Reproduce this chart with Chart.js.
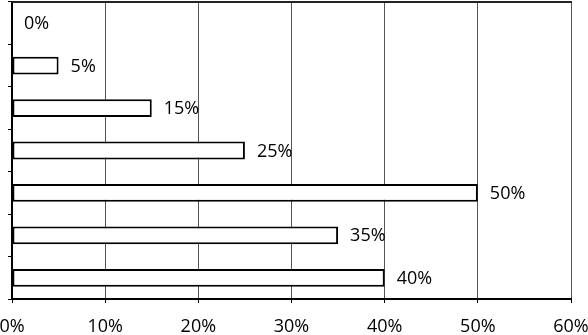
<!DOCTYPE html>
<html>
<head>
<meta charset="utf-8">
<script src="https://cdn.jsdelivr.net/npm/chart.js@4"></script>
<style>
  html, body { margin: 0; padding: 0; background: #fff; }
  #wrap { width: 588px; height: 335px; }
</style>
</head>
<body>
<div id="wrap"><canvas id="barChart" width="588" height="335"></canvas></div>
<script>
// -------------------------------
// Data
// -------------------------------
const categories = ['Item 1', 'Item 2', 'Item 3', 'Item 4', 'Item 5', 'Item 6', 'Item 7'];
const values = [0, 5, 15, 25, 50, 35, 40];
const xTicks = [0, 10, 20, 30, 40, 50, 60];

const FONT = '"Open Sans", "Liberation Sans", sans-serif';

// frame line along the top of the plot
const topFrame = {
  id: 'topFrame',
  afterDraw(chart) {
    const { ctx, chartArea } = chart;
    ctx.save();
    ctx.strokeStyle = '#222';
    ctx.lineWidth = 2;
    ctx.beginPath();
    ctx.moveTo(chartArea.left, chartArea.top);
    ctx.lineTo(chartArea.right + 1, chartArea.top);
    ctx.stroke();
    ctx.restore();
  }
};

// value labels to the right of each bar
const valueLabels = {
  id: 'valueLabels',
  afterDatasetsDraw(chart) {
    const ctx = chart.ctx;
    const meta = chart.getDatasetMeta(0);
    ctx.save();
    ctx.font = '18px ' + FONT;
    ctx.fillStyle = '#000';
    ctx.textBaseline = 'middle';
    ctx.textAlign = 'left';
    meta.data.forEach((bar, i) => {
      ctx.fillText(values[i] + '%', bar.x + 12, bar.y + 1);
    });
    ctx.restore();
  }
};

new Chart(document.getElementById('barChart'), {
  type: 'bar',
  data: {
    labels: categories,
    datasets: [{
      data: values,
      backgroundColor: '#fff',
      borderColor: '#000',
      borderWidth: c => (values[c.dataIndex] === 0 ? 0 : 2),
      borderSkipped: false,
      categoryPercentage: 1,
      barPercentage: 0.42
    }]
  },
  options: {
    indexAxis: 'y',
    responsive: false,
    animation: false,
    devicePixelRatio: 1,
    layout: { padding: { top: 2, right: 17, left: 0, bottom: 0 } },
    plugins: { legend: { display: false }, tooltip: { enabled: false } },
    scales: {
      x: {
        min: xTicks[0],
        max: xTicks[xTicks.length - 1],
        afterBuildTicks: s => { s.ticks = xTicks.map(v => ({ value: v })); },
        ticks: {
          color: '#000',
          padding: 13,
          font: { family: FONT, size: 18 },
          callback: v => v + '%',
          maxRotation: 0
        },
        grid: { color: '#555', lineWidth: 1, tickLength: 4, tickColor: '#000' },
        border: { color: '#000', width: 2 },
        afterFit: s => { s.paddingLeft = 0; s.paddingRight = 0; s.height = 36; }
      },
      y: {
        offset: true,
        ticks: { display: false },
        grid: {
          offset: true,
          drawOnChartArea: false,
          tickColor: '#000',
          tickLength: 4
        },
        border: { color: '#000', width: 2 },
        afterFit: s => { s.width = 12; s.paddingTop = 0; s.paddingBottom = 0; }
      }
    }
  },
  plugins: [valueLabels, topFrame]
});
</script>
</body>
</html>
